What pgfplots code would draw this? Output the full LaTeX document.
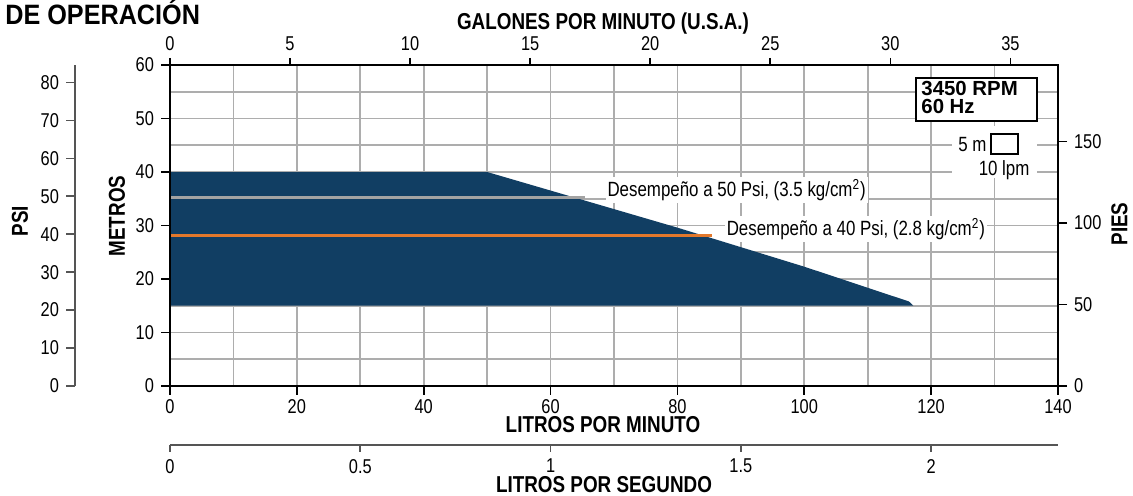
\documentclass[border=0pt]{standalone}
\usepackage{fontspec}
\usepackage{pgfplots}
\pgfplotsset{compat=1.18}
\setmainfont{Liberation Sans}
\newfontfamily\narrow[FakeStretch=0.82]{Liberation Sans}
\newfontfamily\titlefont[FakeStretch=0.9]{Liberation Sans}
\definecolor{navy}{HTML}{113E63}
\definecolor{orangeline}{HTML}{E2782C}
\definecolor{grayline}{HTML}{A3A3A3}
\definecolor{gridc}{HTML}{ADADAD}
\definecolor{scalec}{HTML}{555555}

\pgfplotsset{
  base/.style={
    scale only axis, anchor=south west,
    /pgf/number format/assume math mode=true,
    ticklabel style={font=\narrow\fontsize{10}{12}\selectfont},
    tick align=outside, major tick length=4.5pt, minor tick length=0pt,
    tick style={black, line width=0.8pt},
  },
}

\begin{document}
\begin{tikzpicture}
\path[use as bounding box] (0,0) rectangle (566.5pt,248pt);

% main axis: litros por minuto / metros
\begin{axis}[base,
  at={(85pt,55pt)}, width=444pt, height=160.5pt,
  xmin=0, xmax=140, ymin=0, ymax=60,
  xtick={0,20,...,140}, minor xtick={10,30,...,130},
  ytick={0,10,...,60}, minor ytick={5,15,...,55},
  xtick pos=left, ytick pos=left,
  xticklabel style={yshift=1.5pt},
  grid=both,
  major grid style={gridc, line width=0.8pt},
  minor grid style={gridc, line width=0.8pt},
  axis line style={line width=1.1pt},
]
\addplot[fill=navy, draw=none] coordinates {
  (0,15) (0,40) (50,40) (80,29.6) (100,22.3) (116.5,15.8) (117.2,15)} -- cycle;
\addplot[grayline, line width=1.5pt] coordinates {(0,35.2) (65.4,35.2)};
\addplot[orangeline, line width=1.5pt] coordinates {(0,28.2) (85.4,28.2)};

\node[anchor=west, fill=white, inner sep=1pt, font=\narrow\fontsize{10.3}{12}\selectfont]
  at (axis cs:68.6,36.6) {Desempeño a 50 Psi, (3.5 kg/cm\textsuperscript{2})};
\node[anchor=west, fill=white, inner sep=1pt, font=\narrow\fontsize{10.3}{12}\selectfont]
  at (axis cs:87.4,29.3) {Desempeño a 40 Psi, (2.8 kg/cm\textsuperscript{2})};

% 3450 RPM box
\draw[line width=1.1pt, fill=white] (axis cs:117.6,49.5) rectangle (axis cs:136.7,57.6);
\node[anchor=north west, align=left, inner sep=0pt,
  font=\bfseries\fontsize{10.2}{8.8}\selectfont]
  at (axis cs:118.4,57.0) {3450 RPM\\60 Hz};

% scale square
\fill[white] (axis cs:123.3,38.8) rectangle (axis cs:136.7,48.6);
\draw[line width=1.1pt, fill=white] (axis cs:129.4,43.4) rectangle (axis cs:133.7,47.1);
\node[anchor=east, inner sep=1pt, font=\narrow\fontsize{10.3}{12}\selectfont]
  at (axis cs:129.1,45.2) {5 m};
\node[inner sep=1pt, font=\narrow\fontsize{10.3}{12}\selectfont]
  at (axis cs:131.5,40.4) {10 lpm};

\draw[line width=1.1pt] (rel axis cs:0,0) rectangle (rel axis cs:1,1);
\end{axis}

% top: galones por minuto
\begin{axis}[base,
  at={(85pt,55pt)}, width=444pt, height=160.5pt,
  xmin=0, xmax=36.984, ymin=0, ymax=1,
  axis x line*=top, hide y axis,
  xtick={0,5,...,35}, major tick length=3.5pt,
  axis line style={line width=1.1pt},
]
\end{axis}

% right: pies
\begin{axis}[base,
  at={(85pt,55pt)}, width=444pt, height=160.5pt,
  xmin=0, xmax=1, ymin=0, ymax=196.85,
  axis y line*=right, hide x axis,
  ytick={0,50,100,150},
  axis line style={line width=1.1pt},
]
\end{axis}

% left: psi
\begin{axis}[base,
  at={(37.5pt,55pt)}, width=10pt, height=160.5pt,
  xmin=0, xmax=1, ymin=0, ymax=84.6,
  axis y line*=left, hide x axis,
  ytick={0,10,...,80},
  axis line style={scalec, line width=0.9pt},
  tick style={scalec, line width=0.8pt},
]
\end{axis}

% bottom: litros por segundo
\begin{axis}[base,
  at={(85pt,25.5pt)}, width=444pt, height=10pt,
  xmin=0, xmax=2.3333, ymin=0, ymax=1,
  axis x line*=bottom, hide y axis,
  xtick={0,0.5,1,1.5,2}, major tick length=3.5pt,
  axis line style={scalec, line width=0.9pt},
  tick style={scalec, line width=0.8pt},
]
\end{axis}

% titles
\node[anchor=base west, inner sep=0pt, font=\titlefont\bfseries\fontsize{14}{16}\selectfont]
  at (2.5pt,235.5pt) {DE OPERACIÓN};
\node[anchor=base, inner sep=0pt, font=\narrow\bfseries\fontsize{11.5}{13}\selectfont] at (301.5pt,233pt) {GALONES POR MINUTO (U.S.A.)};
\node[anchor=base, inner sep=0pt, font=\narrow\bfseries\fontsize{11.5}{13}\selectfont] at (301.5pt,31.5pt) {LITROS POR MINUTO};
\node[anchor=base, inner sep=0pt, font=\narrow\bfseries\fontsize{11.5}{13}\selectfont] at (302pt,1.5pt) {LITROS POR SEGUNDO};
\node[rotate=90, font=\narrow\bfseries\fontsize{11.5}{13}\selectfont] at (58.5pt,140pt) {METROS};
\node[rotate=90, font=\narrow\bfseries\fontsize{11.5}{13}\selectfont] at (10pt,137.5pt) {PSI};
\node[rotate=90, font=\narrow\bfseries\fontsize{11.5}{13}\selectfont] at (559.75pt,136pt) {PIES};
\end{tikzpicture}
\end{document}
